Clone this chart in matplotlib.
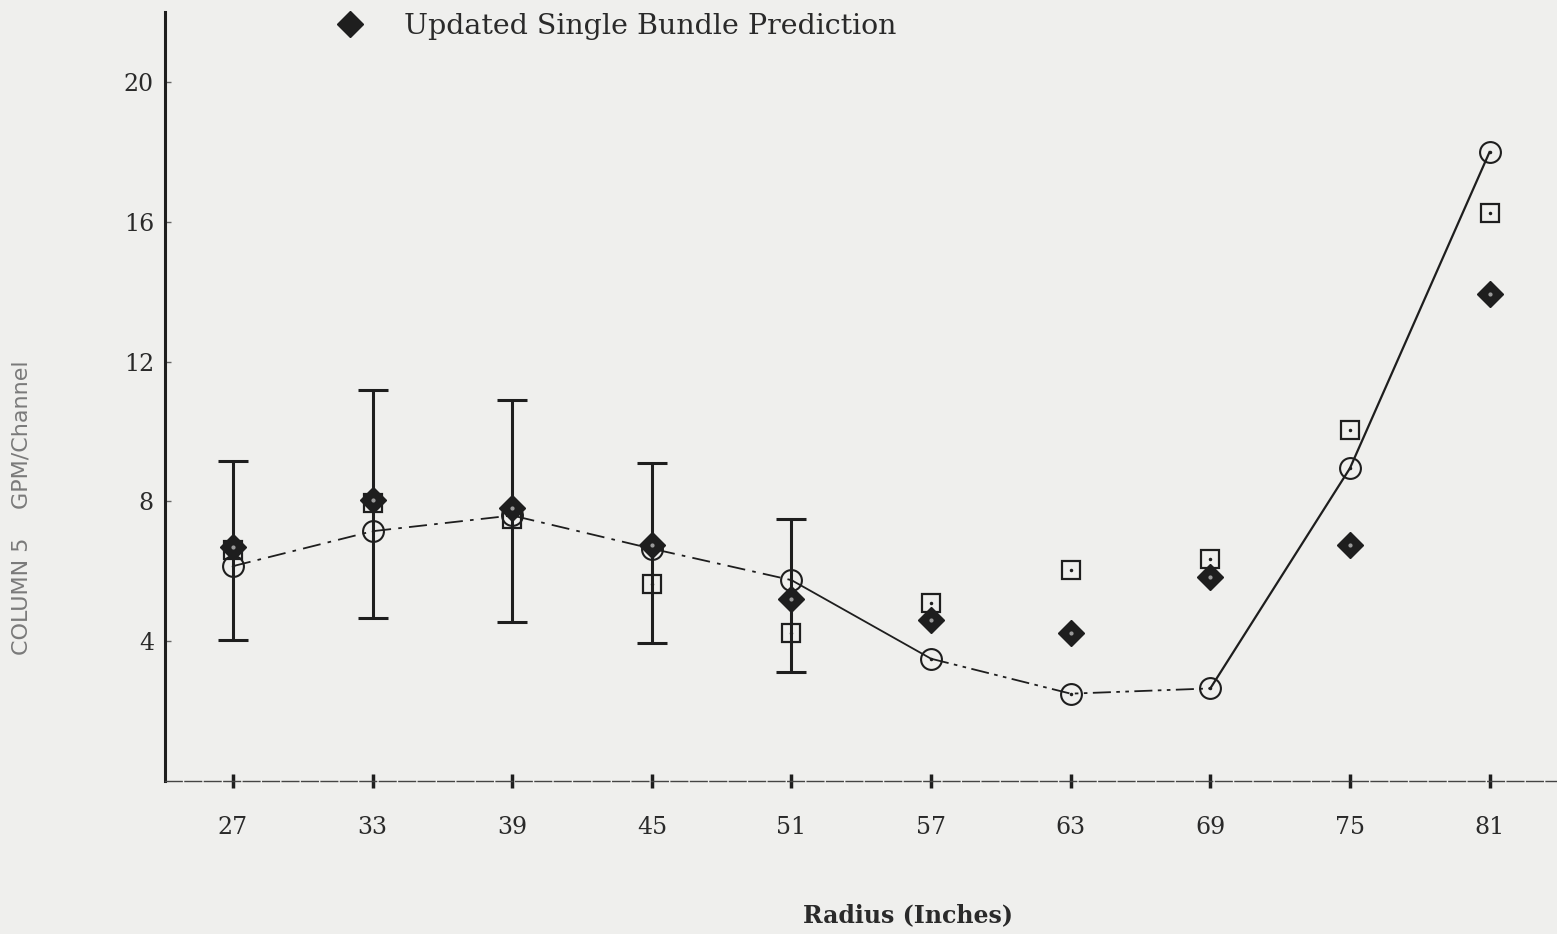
import matplotlib
matplotlib.use("Agg")
import numpy as np
import matplotlib.pyplot as plt
from matplotlib.lines import Line2D

# values (scan is tilted ~1.8 deg, corrected by eye)
radius = [27, 33, 39, 45, 51, 57, 63, 69, 75, 81]
line_circles = [6.15, 7.15, 7.6, 6.65, 5.75, 3.5, 2.5, 2.65, 8.95, 18.0]
single_bundle = [6.7, 8.05, 7.8, 6.75, 5.2, 4.6, 4.25, 5.85, 6.75, 13.95]
squares = [6.6, 7.95, 7.5, 5.65, 4.25, 5.1, 6.05, 6.35, 10.05, 16.25]

err_radius = [27, 33, 39, 45, 51]
err_low = [4.03, 4.67, 4.54, 3.95, 3.13]
err_high = [9.15, 11.2, 10.9, 9.1, 7.5]

yticks = [4, 8, 12, 16, 20]

bg = '#efefed'
ink = '#1e1e1e'

fig = plt.figure(figsize=(15.57, 9.34), dpi=100, facecolor=bg)
ax = fig.add_axes([0.106, 0.1638, 0.894, 0.823], facecolor=bg)

# error bars
lo = np.array(err_low)
hi = np.array(err_high)
ax.errorbar(err_radius, (lo + hi) / 2, yerr=(hi - lo) / 2, fmt='none',
            ecolor=ink, elinewidth=2.2, capsize=11, capthick=2.2, zorder=2)

# line through the circles, broken styles like the plotter output
ax.plot(radius[0:5], line_circles[0:5], color=ink, lw=1.3,
        ls=(0, (10, 4, 2, 4)), zorder=3)
ax.plot(radius[4:6], line_circles[4:6], color=ink, lw=1.3, zorder=3)
ax.plot(radius[5:8], line_circles[5:8], color=ink, lw=1.3,
        ls=(0, (10, 3, 2, 3, 2, 3)), zorder=3)
ax.plot(radius[7:10], line_circles[7:10], color=ink, lw=1.6, zorder=3)

ax.plot(radius, line_circles, ls='none', marker='o', ms=15, mfc='none',
        mec=ink, mew=1.5, zorder=4)
ax.plot(radius, line_circles, ls='none', marker='.', ms=3, color=ink, zorder=4)

ax.plot(radius, squares, ls='none', marker='s', ms=13, mfc='none',
        mec=ink, mew=1.6, zorder=5)
ax.plot(radius, squares, ls='none', marker='.', ms=3, color=ink, zorder=5)

ax.plot(radius, single_bundle, ls='none', marker='D', ms=13, color=ink,
        mec=ink, zorder=6)
ax.plot(radius, single_bundle, ls='none', marker='.', ms=4, color='#9a9a9a',
        zorder=7)

ax.set_xlim(24.08, 83.9)
ax.set_ylim(0, 22.0)

for s in ['top', 'right']:
    ax.spines[s].set_visible(False)
ax.spines['left'].set_color(ink)
ax.spines['left'].set_linewidth(2.2)
ax.spines['bottom'].set_color('#444444')
ax.spines['bottom'].set_linewidth(1.0)
ax.spines['bottom'].set_linestyle((0, (12, 2)))

ax.set_xticks(radius)
ax.set_xticklabels([str(r) for r in radius], family='DejaVu Serif',
                   fontsize=17, color='#2a2a2a')
ax.set_yticks(yticks)
ax.set_yticklabels([str(t) for t in yticks], family='DejaVu Serif',
                   fontsize=17, color='#2a2a2a')
ax.tick_params(axis='x', direction='inout', length=10, width=2.5,
               color=ink, pad=20)
ax.tick_params(axis='y', direction='in', length=4, width=1, color='#666666',
               pad=8)

fig.text(0.014, 0.456, 'COLUMN 5    GPM/Channel', rotation=90, ha='center',
         va='center', fontsize=16, color='#7a7a7a', family='DejaVu Sans')
fig.text(0.583, 0.020, 'Radius (Inches)', ha='center', va='center',
         fontsize=17, color='#2a2a2a', family='DejaVu Serif', weight='bold')

handle = Line2D([], [], ls='none', marker='D', ms=13, color=ink)
fig.legend([handle], ['Updated Single Bundle Prediction'], loc='upper left',
           bbox_to_anchor=(0.19, 1.014), frameon=False, handletextpad=0.9,
           prop={'family': 'DejaVu Serif', 'size': 20.5}, labelcolor='#2a2a2a')

fig.savefig('out.png', dpi=100, facecolor=bg)
